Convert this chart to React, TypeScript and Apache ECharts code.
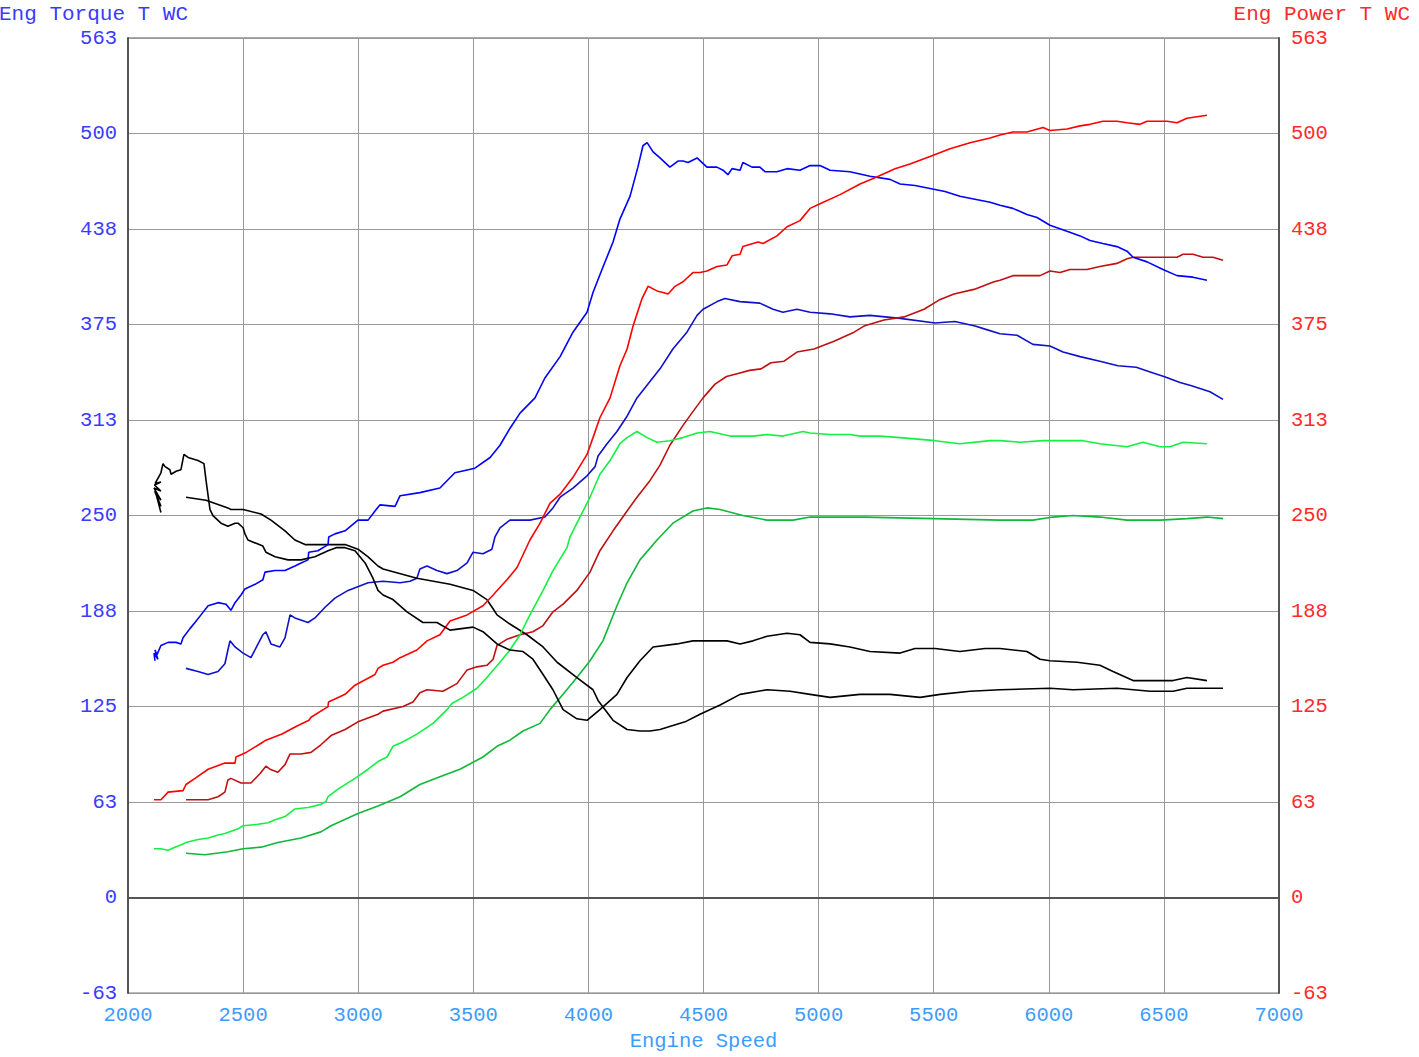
import React, { useEffect, useRef } from "react";
import * as echarts from "echarts";

// Axis ranges / ticks
const X_MIN = 2000;
const X_MAX = 7000;
const X_STEP = 500;
const Y_MIN = -62.5;
const Y_MAX = 562.5;
const Y_STEP = 62.5;

const leftTitle = "Eng Torque T WC";
const rightTitle = "Eng Power T WC";
const xTitle = "Engine Speed";

// Run 1 (bright colours) — [engine speed, value]
const torqueRun1: [number, number][] = [
  [2117, 155], [2113, 160], [2130, 156], [2117, 162], [2126, 159], [2143, 165], [2174, 167], [2209, 167], [2230, 166],
  [2239, 170], [2269, 176], [2291, 180], [2317, 185], [2348, 191], [2391, 193], [2426, 192], [2447, 188],
  [2465, 193], [2491, 198], [2508, 202], [2552, 205], [2586, 208], [2595, 213], [2639, 214], [2682, 214],
  [2725, 217], [2752, 219], [2782, 221], [2785, 226], [2825, 227], [2869, 231], [2872, 236], [2899, 238],
  [2943, 240], [2999, 247], [3043, 247], [3073, 253], [3095, 257], [3160, 256], [3182, 263], [3268, 265],
  [3355, 268], [3420, 278], [3507, 281], [3573, 288], [3616, 296], [3659, 307], [3703, 317], [3768, 327],
  [3811, 340], [3877, 354], [3933, 370], [3994, 383], [4020, 396], [4059, 411], [4107, 429], [4137, 444],
  [4181, 459], [4215, 478], [4237, 492], [4255, 494], [4281, 488], [4311, 484], [4354, 478], [4389, 482],
  [4411, 482], [4433, 481], [4472, 484], [4515, 478], [4558, 478], [4585, 476], [4606, 473], [4624, 477],
  [4659, 476], [4671, 481], [4711, 478], [4745, 478], [4767, 475], [4819, 475], [4863, 477], [4919, 476],
  [4963, 479], [5006, 479], [5050, 476], [5136, 475], [5223, 472], [5310, 470], [5354, 467], [5419, 466],
  [5484, 464], [5549, 462], [5614, 459], [5679, 457], [5745, 455], [5788, 453], [5844, 451], [5905, 447],
  [5949, 445], [6005, 440], [6079, 436], [6136, 433], [6179, 430], [6235, 428], [6296, 426], [6340, 423],
  [6366, 419], [6427, 416], [6496, 411], [6557, 407], [6626, 406], [6687, 404],
];

const powerRun1: [number, number][] = [
  [2113, 64], [2143, 64], [2174, 69], [2239, 70], [2252, 74], [2291, 78], [2348, 84], [2421, 88], [2465, 88],
  [2469, 92], [2513, 95], [2578, 101], [2599, 103], [2669, 107], [2730, 112], [2786, 116], [2795, 118],
  [2869, 125], [2871, 128], [2943, 133], [2986, 139], [3073, 146], [3086, 150], [3108, 152], [3151, 154],
  [3182, 157], [3255, 162], [3299, 168], [3355, 172], [3399, 181], [3473, 185], [3542, 191], [3586, 198],
  [3646, 208], [3690, 216], [3746, 234], [3790, 245], [3833, 258], [3877, 264], [3933, 275], [3994, 290],
  [4020, 301], [4050, 314], [4094, 327], [4137, 348], [4168, 359], [4194, 374], [4233, 392], [4259, 400],
  [4298, 397], [4324, 396], [4346, 395], [4376, 400], [4411, 403], [4454, 409], [4485, 409], [4515, 410],
  [4559, 413], [4602, 414], [4624, 420], [4659, 421], [4671, 426], [4715, 428], [4737, 429], [4759, 428],
  [4819, 433], [4863, 439], [4919, 443], [4963, 451], [5006, 454], [5093, 460], [5180, 467], [5245, 471],
  [5332, 477], [5397, 480], [5484, 485], [5571, 490], [5658, 494], [5745, 497], [5788, 499], [5844, 501],
  [5905, 501], [5975, 504], [6005, 502], [6079, 503], [6136, 505], [6179, 506], [6235, 508], [6296, 508],
  [6340, 507], [6396, 506], [6427, 508], [6514, 508], [6557, 507], [6600, 510], [6687, 512],
];

const greenRun1: [number, number][] = [
  [2113, 32], [2143, 32], [2174, 31], [2204, 33], [2239, 35], [2252, 36], [2304, 38], [2348, 39], [2391, 41],
  [2421, 42], [2478, 45], [2500, 47], [2565, 48], [2608, 49], [2639, 51], [2682, 53], [2725, 58], [2782, 59],
  [2838, 61], [2860, 63], [2869, 66], [2912, 71], [2986, 78], [3043, 84], [3086, 89], [3125, 92], [3151, 99],
  [3195, 102], [3255, 107], [3325, 114], [3386, 123], [3407, 127], [3455, 131], [3516, 137], [3559, 144],
  [3616, 154], [3659, 162], [3703, 172], [3746, 185], [3803, 201], [3846, 214], [3907, 229], [3920, 236],
  [3977, 253], [4007, 262], [4050, 277], [4094, 286], [4137, 297], [4168, 301], [4211, 305], [4255, 301],
  [4298, 298], [4354, 299], [4411, 301], [4472, 304], [4528, 305], [4615, 302], [4715, 302], [4776, 303],
  [4845, 302], [4932, 305], [4963, 304], [5050, 303], [5136, 303], [5180, 302], [5267, 302], [5354, 301],
  [5506, 299], [5614, 297], [5745, 299], [5788, 299], [5875, 298], [5975, 299], [6149, 299], [6222, 297],
  [6340, 295], [6409, 298], [6483, 295], [6526, 295], [6583, 298], [6687, 297],
];

const blackRun1: [number, number][] = [
  [2143, 252], [2122, 264], [2143, 256], [2116, 266], [2143, 260], [2113, 268], [2143, 266], [2115, 270],
  [2143, 272], [2118, 271], [2143, 278], [2152, 284], [2161, 282], [2182, 280], [2187, 277], [2209, 279],
  [2230, 280], [2243, 290], [2261, 288], [2304, 286], [2330, 284], [2339, 273], [2348, 263], [2356, 254],
  [2369, 250], [2404, 245], [2434, 243], [2465, 245], [2478, 245], [2500, 242], [2508, 238], [2521, 234],
  [2586, 230], [2599, 226], [2639, 223], [2695, 221], [2752, 221], [2812, 223], [2869, 227], [2904, 229],
  [2943, 229], [2986, 227], [3030, 219], [3064, 209], [3086, 201], [3108, 198], [3151, 195], [3212, 187],
  [3281, 180], [3342, 180], [3399, 175], [3499, 177], [3542, 174], [3603, 166], [3659, 162], [3716, 161],
  [3759, 156], [3803, 146], [3846, 136], [3890, 123], [3950, 117], [3994, 116], [4050, 123], [4124, 133],
  [4168, 144], [4224, 155], [4281, 164], [4385, 166], [4454, 168], [4528, 168], [4602, 168], [4659, 166],
  [4715, 168], [4776, 171], [4863, 173], [4919, 172], [4963, 167], [5050, 166], [5136, 164], [5223, 161],
  [5354, 160], [5419, 163], [5506, 163], [5614, 161], [5723, 163], [5788, 163], [5905, 161], [5962, 156],
  [6005, 155], [6123, 154], [6222, 152], [6279, 148], [6366, 142], [6440, 142], [6540, 142], [6600, 144],
  [6687, 142],
];

// Run 2 (darker colours)
const torqueRun2: [number, number][] = [
  [2252, 150], [2304, 148], [2348, 146], [2391, 148], [2421, 153], [2434, 162], [2443, 168], [2465, 164],
  [2500, 160], [2534, 157], [2565, 166], [2586, 172], [2599, 174], [2621, 166], [2660, 164], [2682, 170],
  [2704, 185], [2725, 183], [2782, 180], [2812, 183], [2856, 190], [2899, 196], [2956, 201], [3043, 206],
  [3108, 207], [3182, 206], [3225, 207], [3255, 209], [3268, 215], [3299, 217], [3342, 214], [3386, 212],
  [3429, 214], [3473, 219], [3499, 226], [3542, 225], [3581, 228], [3594, 236], [3616, 242], [3659, 247],
  [3746, 247], [3811, 249], [3846, 255], [3877, 262], [3933, 268], [3994, 276], [4029, 282], [4042, 289],
  [4081, 297], [4124, 305], [4168, 315], [4211, 327], [4311, 346], [4367, 359], [4428, 370], [4472, 381],
  [4498, 385], [4559, 390], [4593, 392], [4659, 390], [4745, 389], [4802, 385], [4845, 383], [4906, 385],
  [4963, 383], [5050, 382], [5136, 380], [5223, 381], [5354, 379], [5506, 376], [5592, 377], [5680, 374],
  [5723, 372], [5788, 369], [5862, 368], [5931, 362], [6005, 361], [6062, 357], [6136, 354], [6222, 351],
  [6300, 348], [6380, 347], [6440, 344], [6500, 341], [6570, 337], [6620, 335], [6700, 331], [6757, 326],
];

const powerRun2: [number, number][] = [
  [2252, 64], [2348, 64], [2391, 66], [2421, 69], [2434, 77], [2447, 78], [2491, 75], [2534, 75], [2573, 81],
  [2599, 86], [2617, 84], [2651, 82], [2682, 87], [2704, 94], [2752, 94], [2795, 95], [2838, 100],
  [2882, 106], [2943, 110], [2999, 115], [3086, 120], [3108, 122], [3195, 125], [3238, 128], [3268, 134],
  [3299, 136], [3368, 135], [3429, 140], [3473, 149], [3516, 151], [3559, 152], [3586, 156], [3603, 165],
  [3646, 169], [3703, 172], [3759, 174], [3803, 178], [3846, 187], [3890, 192], [3950, 201], [4007, 213],
  [4050, 227], [4107, 240], [4168, 253], [4211, 262], [4268, 273], [4311, 283], [4354, 296], [4411, 309],
  [4454, 318], [4498, 327], [4550, 336], [4600, 341], [4650, 343], [4700, 345], [4750, 346], [4793, 350],
  [4850, 351], [4906, 357], [4980, 359], [5067, 364], [5154, 370], [5197, 374], [5284, 378], [5371, 380],
  [5458, 385], [5523, 391], [5588, 395], [5675, 398], [5762, 403], [5788, 404], [5844, 407], [5962, 407],
  [6005, 410], [6049, 409], [6092, 411], [6166, 411], [6222, 413], [6296, 415], [6340, 418], [6366, 419],
  [6427, 419], [6483, 419], [6557, 419], [6583, 421], [6626, 421], [6670, 419], [6713, 419], [6757, 417],
];

const greenRun2: [number, number][] = [
  [2252, 29], [2334, 28], [2434, 30], [2500, 32], [2578, 33], [2651, 36], [2752, 39], [2838, 43], [2882, 47],
  [2999, 55], [3086, 60], [3182, 66], [3268, 74], [3355, 79], [3442, 84], [3542, 92], [3603, 99], [3659, 103],
  [3716, 109], [3790, 114], [3833, 123], [3890, 133], [3950, 144], [4007, 155], [4063, 168], [4124, 191],
  [4168, 206], [4224, 221], [4298, 234], [4367, 245], [4454, 253], [4515, 255], [4572, 254], [4671, 250],
  [4776, 247], [4889, 247], [4963, 249], [5200, 249], [5500, 248], [5788, 247], [5931, 247], [6018, 249],
  [6105, 250], [6222, 249], [6340, 247], [6483, 247], [6600, 248], [6687, 249], [6757, 248],
];

const blackRun2: [number, number][] = [
  [2252, 262], [2339, 260], [2434, 255], [2447, 254], [2500, 254], [2578, 251], [2621, 247], [2682, 240],
  [2725, 234], [2769, 231], [2869, 231], [2943, 231], [2999, 228], [3043, 223], [3086, 217], [3108, 215],
  [3255, 209], [3399, 205], [3499, 201], [3559, 195], [3586, 189], [3603, 185], [3659, 179], [3733, 172],
  [3803, 164], [3864, 154], [3950, 144], [4020, 136], [4042, 129], [4107, 116], [4168, 110], [4224, 109],
  [4268, 109], [4311, 110], [4420, 115], [4485, 120], [4572, 126], [4659, 133], [4776, 136], [4876, 135],
  [4963, 133], [5050, 131], [5180, 133], [5310, 133], [5441, 131], [5528, 133], [5658, 135], [5788, 136],
  [6005, 137], [6105, 136], [6296, 137], [6440, 135], [6540, 135], [6600, 137], [6687, 137], [6757, 137],
];

const FONT = "'Liberation Mono', 'DejaVu Sans Mono', monospace";
const LEFT_COLOR = "#3b3bff";
const RIGHT_COLOR = "#ff2b2b";
const X_COLOR = "#3d9dff";

const fmtY = (v: number) => String(Math.sign(v) * Math.round(Math.abs(v)));
const fmtX = (v: number) => String(Math.round(v));

function line(name: string, data: [number, number][], color: string, yAxisIndex = 0) {
  return {
    name,
    type: "line",
    yAxisIndex,
    data,
    showSymbol: false,
    symbol: "none",
    smooth: false,
    lineStyle: { color, width: 1.6 },
    emphasis: { disabled: true },
  };
}

export default function App() {
  const ref = useRef<HTMLDivElement>(null);
  useEffect(() => {
    if (!ref.current) return;
    const chart = echarts.init(ref.current, null, { renderer: "svg" });
    chart.setOption({
      animation: false,
      backgroundColor: "#ffffff",
      grid: { left: 128, right: 140, top: 38, bottom: 60, show: true, borderColor: "#555", borderWidth: 1 },
      graphic: [
        {
          type: "text",
          left: -1,
          top: 4,
          style: { text: leftTitle, fill: LEFT_COLOR, fontSize: 21, fontFamily: FONT },
        },
        {
          type: "text",
          right: 9,
          top: 4,
          style: { text: rightTitle, fill: RIGHT_COLOR, fontSize: 21, fontFamily: FONT },
        },
      ],
      xAxis: {
        type: "value",
        min: X_MIN,
        max: X_MAX,
        interval: X_STEP,
        name: xTitle,
        nameLocation: "middle",
        nameGap: 36,
        nameTextStyle: { color: X_COLOR, fontSize: 20.5, fontFamily: FONT },
        axisLine: { show: true, lineStyle: { color: "#555", width: 2 } },
        axisTick: { show: false },
        splitLine: { show: true, lineStyle: { color: "#999", width: 1 } },
        axisLabel: { color: X_COLOR, fontSize: 20.5, fontFamily: FONT, margin: 12, formatter: fmtX },
      },
      yAxis: [
        {
          type: "value",
          position: "left",
          min: Y_MIN,
          max: Y_MAX,
          interval: Y_STEP,
          axisLine: { show: true, lineStyle: { color: "#555", width: 2 } },
          axisTick: { show: false },
          splitLine: { show: true, lineStyle: { color: "#999", width: 1 } },
          axisLabel: { color: LEFT_COLOR, fontSize: 20.5, fontFamily: FONT, margin: 11, formatter: fmtY },
        },
        {
          type: "value",
          position: "right",
          min: Y_MIN,
          max: Y_MAX,
          interval: Y_STEP,
          axisLine: { show: true, lineStyle: { color: "#555", width: 2 } },
          axisTick: { show: false },
          splitLine: { show: false },
          axisLabel: { color: RIGHT_COLOR, fontSize: 20.5, fontFamily: FONT, margin: 12, formatter: fmtY },
        },
      ],
      series: [
        line("Torque run 2", torqueRun2, "#1010cc"),
        line("Power run 2", powerRun2, "#c01010", 1),
        line("Green run 2", greenRun2, "#10b83a"),
        line("Black run 2", blackRun2, "#000000"),
        line("Torque run 1", torqueRun1, "#0000ff"),
        line("Power run 1", powerRun1, "#ff0000", 1),
        line("Green run 1", greenRun1, "#14f044"),
        line("Black run 1", blackRun1, "#000000"),
      ],
    });
    return () => chart.dispose();
  }, []);
  return (
    <div
      ref={ref}
      style={{ position: "absolute", left: 0, top: 0, width: 1419, height: 1057, background: "#fff" }}
    />
  );
}
